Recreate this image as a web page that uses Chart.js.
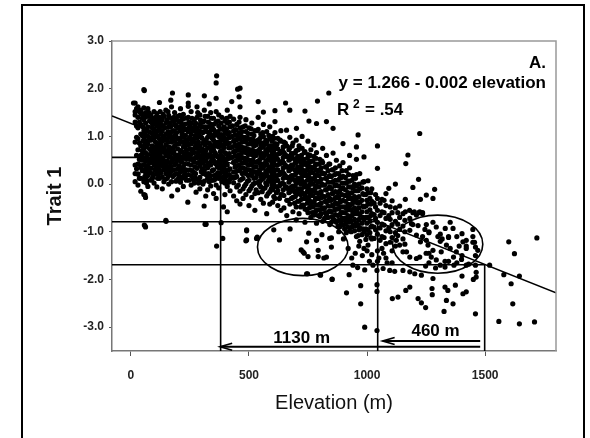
<!DOCTYPE html>
<html><head><meta charset="utf-8">
<script src="https://cdn.jsdelivr.net/npm/chart.js@4.4.1/dist/chart.umd.min.js"></script>
<style>
html,body{margin:0;padding:0;background:#fff;}
#wrap{position:relative;width:590px;height:438px;overflow:hidden;background:#fff;}
#frame{position:absolute;left:21px;top:4px;width:564px;height:470px;border:2.5px solid #000;box-sizing:border-box;}
canvas{position:absolute;left:0;top:0;}
</style></head><body>
<div id="wrap"><div id="frame"></div><canvas id="c" width="590" height="438"></canvas></div>
<script>
// ---- axis ticks ----
const xTicks = [0, 500, 1000, 1500];
const yTicks = [-3, -2, -1, 0, 1, 2, 3];

// ---- main sampling sites: elevation (m) and Trait 1 values of individuals ----
const siteElevation = [18,30,42,55,62,72,85,98,110,121,133,148,160,172,185,198,210,222,235,243,255,268,280,292,305,311,325,338,350,361,372,385,398,408,420,435,448,462,475,487,500,512,525,539,550,561,575,588,600,610,622,635,648,660,673,686,700,712,725,737,750,762,775,786,800,812,828,842,856,870,884,898,912,926,940,955,969,987,1004,1020,1044,1063,1080,1092,1106,1120,1138,1152,1162,1181,1194,1209,1223,1235,1251,1262,1310,1345,1352,1380,1402,1420,1448,1459];
const siteTraits = [
[1.70,1.45,1.52,1.30,0.88,0.40,0.22,0.05],
[1.62,1.40,1.18,0.95,0.72,0.42,0.21,-0.02],
[1.55,1.48,1.25,1.05,0.80,0.60,0.35,0.12,-0.15],
[1.98,1.60,1.35,1.12,0.98,0.75,0.55,0.30,0.05,-0.22],
[1.50,1.28,1.10,0.90,0.66,0.48,0.25,0.10,-0.28,-0.90],
[1.58,1.42,1.20,1.00,0.84,0.62,0.38,0.18,-0.05],
[1.45,1.30,1.08,0.92,0.70,0.52,0.33,0.08],
[1.52,1.36,1.15,0.96,0.78,0.58,0.40,0.20,0.02],
[1.48,1.22,1.02,0.86,0.64,0.45,0.26],
[1.40,1.18,0.95,0.74,0.50,0.30,0.12],
[1.35,1.12,0.90,0.68,0.55,0.38,0.15,-0.10],
[1.55,1.28,1.05,0.82,0.60,0.42,0.22],
[1.44,1.20,1.00,0.78,0.57,0.35,0.18,0.00],
[1.62,1.38,1.10,0.88,0.66,0.47,0.28,0.05],
[1.50,1.25,1.02,0.80,0.62,0.40,0.20],
[1.42,1.18,0.95,0.74,0.55,0.32,0.10,-0.12],
[1.58,1.33,1.12,0.90,0.70,0.48,0.26,0.04],
[1.46,1.20,0.98,0.78,0.58,0.36,0.16,-0.05],
[1.38,1.15,0.92,0.72,0.52,0.30,0.08],
[1.40,1.10,0.85,0.64,0.42,0.20],
[1.52,1.28,1.05,0.84,0.62,0.40,0.18,-0.02],
[1.35,1.12,0.88,0.66,0.46,0.24,0.02],
[1.62,1.40,1.18,0.96,0.75,0.55,0.33,0.10],
[1.45,1.25,1.00,0.80,0.58,0.38,0.14,-0.10],
[1.30,1.08,0.86,0.64,0.44,0.22,0.00],
[1.55,1.32,1.10,0.90,0.70,0.50,0.28,0.06],
[1.42,1.20,0.98,0.76,0.56,0.34,0.12,-0.12],
[1.50,1.26,1.04,0.82,0.60,0.40,0.18,-0.04],
[1.38,1.15,0.92,0.72,0.50,0.30,0.08,-0.20],
[1.80,1.52,1.30,1.06,0.84,0.62,0.42,0.20,-0.02],
[1.45,1.22,1.00,0.78,0.55,0.35,0.12,-0.08],
[1.40,1.15,0.94,0.70,0.50,0.28,0.05],
[1.32,1.10,0.88,0.66,0.45,0.22,0.02,-0.22],
[1.55,1.28,1.06,0.84,0.62,0.40,0.18,-0.05],
[1.42,1.20,0.98,0.76,0.55,0.32,0.10,-0.14],
[1.36,1.12,0.90,0.68,0.46,0.25,0.03,-0.25],
[1.25,1.02,0.80,0.58,0.38,0.16,-0.06,-0.35],
[1.62,1.40,1.18,0.96,0.74,0.52,0.30,0.08,-0.15,-0.42],
[1.20,0.98,0.76,0.55,0.34,0.12,-0.10,-0.30],
[1.35,1.10,0.88,0.66,0.44,0.22,0.00,-0.22],
[1.18,0.95,0.72,0.50,0.30,0.08,-0.14,-0.45],
[1.28,1.05,0.84,0.62,0.40,0.18,-0.04,-0.28],
[1.12,0.90,0.68,0.46,0.25,0.02,-0.20,-0.55],
[1.40,1.15,0.92,0.70,0.48,0.26,0.04,-0.18],
[1.05,0.82,0.60,0.38,0.16,-0.06,-0.32],
[1.25,1.00,0.78,0.56,0.34,0.12,-0.10,-0.40],
[1.10,0.88,0.65,0.42,0.20,-0.02,-0.25,-0.62],
[1.20,0.95,0.72,0.50,0.28,0.06,-0.16,-0.42],
[1.00,0.78,0.55,0.33,0.10,-0.12,-0.38],
[1.08,0.85,0.62,0.40,0.18,-0.05,-0.30],
[0.96,0.74,0.52,0.30,0.08,-0.14,-0.45],
[1.12,0.90,0.66,0.44,0.22,0.00,-0.22,-0.55],
[0.88,0.66,0.44,0.22,0.00,-0.24,-0.50],
[0.80,0.58,0.36,0.14,-0.08,-0.34,-0.66],
[0.98,0.76,0.52,0.30,0.08,-0.16,-0.42],
[0.86,0.64,0.40,0.18,-0.04,-0.28,-0.58],
[0.92,0.70,0.46,0.24,0.02,-0.22,-0.48,-0.75],
[0.80,0.56,0.34,0.12,-0.10,-0.36,-0.62],
[1.00,0.75,0.52,0.30,0.06,-0.18,-0.44],
[0.68,0.45,0.22,0.00,-0.24,-0.52,-0.80],
[0.90,0.62,0.38,0.16,-0.08,-0.32,-0.60],
[0.72,0.48,0.26,0.04,-0.20,-0.46,-0.70],
[0.82,0.58,0.35,0.12,-0.12,-0.38,-0.65],
[0.66,0.42,0.20,-0.04,-0.30,-0.55,-0.82],
[0.52,0.30,0.06,-0.18,-0.42,-0.68],
[0.75,0.45,0.22,-0.02,-0.26,-0.52,-0.78],
[0.60,0.36,0.12,-0.12,-0.38,-0.64],
[0.42,0.18,-0.06,-0.30,-0.56,-0.85],
[0.65,0.30,0.05,-0.20,-0.45,-0.72],
[0.50,0.22,-0.02,-0.28,-0.52,-0.80],
[0.38,0.12,-0.14,-0.38,-0.64,-0.90],
[0.85,0.45,0.16,-0.08,-0.34,-0.60,-0.86],
[0.28,0.02,-0.24,-0.50,-0.76,-1.02],
[0.60,0.34,0.06,-0.20,-0.46,-0.72,-0.98],
[0.18,-0.08,-0.34,-0.60,-0.86],
[0.20,-0.04,-0.30,-0.56,-0.82,-1.10],
[-0.10,-0.38,-0.64,-0.92,-1.20],
[0.05,-0.22,-0.48,-0.74,-1.00,-1.35],
[-0.18,-0.42,-0.70,-0.96,-1.28],
[-0.10,-0.36,-0.62,-0.88,-1.15,-1.48],
[-0.30,-0.55,-0.80,-1.05,-1.40,-1.62],
[-0.58,-0.84,-1.10,-1.35],
[-0.20,-0.45,-0.72,-0.98,-1.25,-1.55],
[-0.66,-0.92],
[-0.60,-0.85,-1.12,-1.40,-1.65],
[-0.50,-0.78,-1.02,-1.30],
[-0.70,-0.95],
[-0.62,-0.88,-1.15,-1.42],
[-0.58],
[-0.72],
[-0.60,-0.85],
[-0.65],
[-0.58],
[-0.62,-1.10],
[-0.85],
[-1.00,-1.45,-1.65],
[-1.05,-1.20,-1.70],
[-1.10,-1.62],
[-1.35],
[-1.10,-1.65],
[-1.50],
[-1.18,-1.30,-1.70],
[-1.22],
[-1.50,-1.70]
];

// ---- additional sites in the dense core ----
const fillElevation = [48,66,79,92,104,116,127,140,154,166,178,191,204,216,228,249,262,274,286,298,318,332,344,356,366,379,391,403,414,441,455,468,481,494,506,518,530,545,556,568,581,594,605,616,629,642,666,680,693,706,719,731,744,756,768,781,793,806,820,835,849,863,877,891,905,919,933,947,962,978,995,1012,1030];
const fillTraits = [
[1.38,1.02,0.70,0.50,0.28],[1.46,1.16,0.78,0.56,0.33,0.02],[1.33,0.96,0.74,0.44,0.25],[1.24,1.00,0.64,0.45,0.14],
[1.40,1.06,0.88,0.50,0.32],[1.30,0.98,0.70,0.38,0.20],[1.26,1.05,0.82,0.46,0.24],[1.42,1.00,0.75,0.50,0.30,0.05],
[1.35,0.94,0.70,0.48,0.12],[1.28,1.06,0.68,0.44,0.24],[1.32,0.96,0.74,0.52,0.16],[1.22,1.00,0.60,0.44,0.06],
[1.30,0.84,0.62,0.38,0.18],[1.26,1.05,0.68,0.46,0.12],[1.14,0.88,0.64,0.42,0.22],[1.24,0.98,0.74,0.52,0.30],
[1.18,0.94,0.72,0.50,0.10],[1.28,1.02,0.80,0.56,0.22],[1.12,0.88,0.66,0.45,0.02],[1.20,0.98,0.72,0.50,0.26],
[1.16,0.92,0.70,0.48,0.20],[1.08,0.86,0.62,0.40,0.05],[1.22,0.96,0.74,0.52,0.28],[1.10,0.88,0.66,0.44,0.10],
[1.04,0.80,0.58,0.36,0.16],[1.16,0.90,0.68,0.44,0.22],[1.02,0.80,0.56,0.38,0.14],[1.10,0.86,0.64,0.42,0.08],
[0.98,0.76,0.54,0.30,0.04],[1.04,0.82,0.60,0.36,0.14],[0.94,0.72,0.50,0.28,-0.02],[1.00,0.78,0.56,0.34,0.10],
[0.90,0.68,0.46,0.24,-0.04],[0.96,0.74,0.52,0.30,0.06],[0.86,0.64,0.42,0.20,-0.10],[0.92,0.70,0.48,0.26,0.00],
[0.82,0.60,0.36,0.14,-0.12],[0.88,0.66,0.44,0.22,-0.02],[0.78,0.56,0.34,0.10,-0.16],[0.84,0.62,0.40,0.18,-0.08],
[0.74,0.52,0.30,0.06,-0.20],[0.80,0.58,0.36,0.14,-0.10],[0.70,0.48,0.24,0.02,-0.26],[0.76,0.54,0.30,0.08,-0.18],
[0.64,0.42,0.20,-0.04,-0.30],[0.70,0.48,0.26,0.02,-0.22],[0.58,0.36,0.14,-0.10,-0.34],[0.64,0.40,0.18,-0.06,-0.30],
[0.52,0.30,0.08,-0.16,-0.40],[0.58,0.36,0.12,-0.12,-0.36],[0.46,0.24,0.00,-0.22,-0.48],[0.52,0.28,0.04,-0.20,-0.44],
[0.40,0.18,-0.06,-0.30,-0.54],[0.46,0.22,-0.02,-0.26,-0.50],[0.34,0.10,-0.14,-0.38,-0.60],[0.40,0.16,-0.08,-0.32,-0.58],
[0.28,0.04,-0.20,-0.44,-0.66],[0.34,0.10,-0.16,-0.40,-0.62],[0.22,-0.02,-0.26,-0.50,-0.72],[0.28,0.04,-0.22,-0.46,-0.70],
[0.16,-0.10,-0.34,-0.58,-0.80],[0.20,-0.04,-0.30,-0.54,-0.76],[0.08,-0.18,-0.42,-0.66,-0.88],[0.14,-0.10,-0.36,-0.60,-0.84],
[0.02,-0.24,-0.48,-0.72,-0.94],[0.06,-0.18,-0.42,-0.66,-0.90],[-0.06,-0.30,-0.54,-0.78,-1.00],[0.00,-0.26,-0.50,-0.74,-0.98],
[-0.14,-0.40,-0.62,-0.86,-1.08],[-0.08,-0.34,-0.58,-0.82,-1.06],[-0.22,-0.46,-0.70,-0.94,-1.16],[-0.30,-0.54,-0.78,-1.02],
[-0.40,-0.64,-0.90,-1.14]
];

// ---- a third set of sites in the dense core ----
const coreElevation = [24,36,51,59,76,90,101,113,124,137,144,157,169,182,194,207,219,231,246,259,271,283,295,302,314,328,341,353,369,382,394,405,417,430,444,458,471,484,497,509,521,535,547,558,571,584,597,607,619,632,645,654,669,683,696,709,722,734,747,759,771,784,797,809,824,838,852,866,880,894,908,922,936,951,966,982,999,1016,1036,1055,1072,1098,1130,1160];
const coreTraits = [
[1.58,1.22,0.98,0.60,0.32],[1.52,1.30,0.86,0.52,0.12],[1.44,1.20,0.90,0.64,0.40],[1.40,1.06,0.82,0.40,0.16],
[1.50,1.10,0.92,0.52,0.28],[1.38,1.18,0.80,0.60,0.22],[1.28,1.10,0.70,0.52,0.30],[1.36,1.12,0.78,0.56,0.12],
[1.52,1.28,0.86,0.62,0.40],[1.46,1.22,1.00,0.76,0.46],[1.18,0.92,0.66,0.34,0.10],[1.52,1.10,0.88,0.62,0.30],
[1.20,0.98,0.76,0.56,0.36],[1.40,1.12,0.90,0.68,0.30],[1.34,1.08,0.84,0.50,0.22],[1.44,1.20,0.96,0.56,0.32],
[1.36,1.12,0.88,0.54,0.28],[1.26,1.02,0.80,0.60,0.16],[1.30,1.18,0.94,0.56,0.08],[1.38,1.14,0.90,0.70,0.28],
[1.24,1.00,0.76,0.36,0.14],[1.50,1.08,0.86,0.64,0.44],[1.34,1.10,0.70,0.48,0.04],[1.20,0.96,0.74,0.54,0.32],
[1.42,1.20,0.82,0.60,0.38],[1.30,1.08,0.86,0.44,0.22],[1.38,1.14,0.70,0.48,0.08],[1.26,1.02,0.80,0.60,0.18],
[1.32,1.10,0.88,0.46,0.24],[1.28,1.04,0.82,0.60,0.38],[1.20,0.98,0.76,0.34,0.12],[1.38,1.16,0.94,0.52,0.28],
[1.30,1.08,0.86,0.64,0.20],[1.22,1.00,0.78,0.56,0.14],[1.14,0.92,0.70,0.48,0.26],[1.30,1.08,0.84,0.62,0.40],
[1.10,0.88,0.66,0.44,0.22],[1.22,0.98,0.76,0.54,0.32],[1.06,0.84,0.62,0.40,0.18],[1.16,0.94,0.72,0.50,0.28],
[1.02,0.80,0.58,0.36,0.12],[1.12,0.90,0.68,0.46,0.22],[0.96,0.74,0.52,0.30,0.06],[1.08,0.86,0.64,0.42,0.20],
[0.92,0.70,0.48,0.26,0.02],[1.02,0.80,0.58,0.36,0.14],[0.90,0.66,0.44,0.22,-0.02],[0.96,0.74,0.50,0.28,0.06],
[0.84,0.62,0.40,0.18,-0.06],[0.92,0.68,0.46,0.24,0.00],[0.78,0.56,0.34,0.12,-0.12],[0.86,0.62,0.40,0.18,-0.06],
[0.72,0.50,0.28,0.04,-0.18],[0.80,0.56,0.34,0.12,-0.12],[0.66,0.44,0.20,-0.04,-0.26],[0.72,0.50,0.26,0.04,-0.20],
[0.60,0.38,0.14,-0.10,-0.32],[0.66,0.42,0.18,-0.06,-0.30],[0.54,0.30,0.08,-0.16,-0.40],[0.60,0.36,0.12,-0.12,-0.36],
[0.48,0.24,0.00,-0.24,-0.48],[0.54,0.30,0.06,-0.18,-0.44],[0.42,0.18,-0.06,-0.30,-0.54],[0.48,0.24,0.00,-0.24,-0.50],
[0.36,0.12,-0.12,-0.36,-0.60],[0.42,0.16,-0.08,-0.32,-0.58],[0.30,0.04,-0.20,-0.46,-0.68],[0.34,0.08,-0.16,-0.40,-0.64],
[0.22,-0.04,-0.28,-0.52,-0.76],[0.28,0.02,-0.22,-0.48,-0.72],[0.14,-0.12,-0.36,-0.60,-0.84],[0.20,-0.06,-0.30,-0.54,-0.80],
[0.08,-0.18,-0.42,-0.66,-0.90],[0.12,-0.14,-0.38,-0.62,-0.88],[0.00,-0.26,-0.50,-0.74,-0.96],[0.04,-0.20,-0.46,-0.70,-0.94],
[-0.10,-0.34,-0.58,-0.82,-1.06],[-0.18,-0.42,-0.66,-0.90,-1.12],[-0.22,-0.48,-0.72,-0.96],[-0.40,-0.66,-0.92,-1.18],
[-0.34,-0.60,-0.86,-1.12],[-0.48,-0.74,-1.00,-1.22],[-0.60,-0.84,-1.08],[-0.76,-1.00,-1.26]
];

// ---- scattered individuals (read one by one) ----
const outlierElevation = [1600,1719,1624,1519,1579,1645,1610,1617,1558,1645,1709,
1459,1462,1462,1406,1420,1364,1326,1336,1342,1330,1374,1402,1279,1275,1276,1248,1230,1216,1181,1164,1131,1107,1230,1202,1181,1152,1117,1096,1068,1042,1042,1042,1042,990,973,973,913,924,852,803,744,
1248,1290,1330,1368,1430,1450,
57,148,317,382,408,392,310,241,173,317,60,30,32,68,89,110,361,276,363,389,487,490,532,314,149,60,318,
363,361,57,11,121,176,169,243,243,243,311,332,452,427,462,458,539,561,610,655,673,737,790,838,610,754,786,828,856,962,701,659,
1223,1044,955,987,955,1173,1164,1044,969,1218,1004,1120,1092,1194,1286,1251,1279,1226,1162,1106,1138,1063,1180,1200,1220,1235,
1279,1293,1331,1352,1364,1402,1448,1406,1459,1469,1455,1448,1378,1366,1336,1314,1279,1272,1293,1258,1251,1226,1209,1181,1188,1216,1223,1209,1181,1167,1138,1124,1245,1262,1300,1318,1345,1390,1420,1250,1330,1400,
744,786,793,828,842,849,729,605,674,629,721,734,750,793,817,849,809,753,748,801,852,490,490,535,
880,900,920,935,950,965,980,1000,1010,1025,1050,1070,1085,940,960,990];
const outlierTrait = [-1.21,-1.13,-1.46,-1.70,-1.90,-1.93,-2.09,-2.51,-2.88,-2.93,-2.89,
-2.72,-1.95,-1.85,-2.30,-2.26,-2.51,-2.67,-2.44,-2.23,-2.16,-2.12,-1.93,-1.98,-2.19,-2.32,-2.59,-2.49,-2.40,-2.16,-2.23,-2.37,-2.40,-1.91,-1.88,-1.84,-1.81,-1.83,-1.81,-1.77,-1.81,-2.11,-2.25,-3.07,-3.00,-2.51,-2.13,-2.28,-1.90,-2.00,-1.91,-1.88,
-1.72,-1.76,-1.74,-1.70,-1.68,-2.00,
-0.86,-0.76,-0.84,-0.81,-0.58,-0.48,-0.46,-0.38,-0.25,-0.25,-0.23,0.21,0.42,0.08,0.10,-0.06,-0.30,-0.17,-1.30,-1.14,-1.19,-0.98,-1.14,-0.84,-0.78,-0.88,-0.84,
2.27,2.12,1.96,1.70,1.71,1.91,1.76,1.87,1.70,1.63,1.85,1.68,1.99,1.73,2.01,1.83,1.73,1.51,1.54,1.70,1.55,1.53,1.74,1.91,1.31,1.32,1.27,1.31,1.17,1.03,1.17,1.13,
1.06,0.80,0.78,0.57,0.52,0.61,0.43,0.33,0.22,0.10,0.07,0.00,-0.09,-0.07,-0.11,-0.23,-0.30,-0.32,-0.32,-0.35,-0.46,-0.32,-0.55,-0.58,-0.60,-0.60,
-0.80,-0.90,-0.93,-0.80,-0.93,-1.04,-0.95,-1.21,-1.32,-1.39,-1.22,-1.10,-1.42,-1.53,-1.28,-1.42,-1.39,-1.53,-1.59,-1.28,-1.18,-1.21,-1.07,-0.97,-0.83,-0.87,-1.53,-1.56,-1.53,-1.42,-1.28,-1.18,-0.95,-1.02,-1.10,-1.15,-1.12,-1.30,-1.35,-1.45,-1.62,-1.58,
-1.21,-1.18,-1.39,-1.53,-1.14,-1.32,-1.42,-0.96,-0.94,-1.17,-1.38,-1.45,-1.52,-1.52,-1.55,-1.13,-1.06,-1.03,-1.88,-1.90,-1.99,-0.96,-1.17,-1.11,
-1.00,-1.15,-1.35,-1.55,-1.45,-1.30,-1.50,-1.40,-1.62,-1.70,-1.55,-1.45,-1.65,-1.70,-1.75,-1.80];

// ---- regression line and read-off construction ----
const regElevation = [-80, 1800];
const regTrait = [1.43, -2.28];
const hLineY = [0.56, -0.79, -1.69];
const hLineEnd = [380, 1045, 1498];
const vLineX = [380, 1045, 1498];
const vLineTop = [0.56, -0.79, -1.69];
const arrowStart = [1479, 1479];
const arrowEnd = [378, 1066];
const arrowY = [-3.41, -3.29];
const arrowLabels = ['1130 m', '460 m'];
const arrowLabelX = [723, 1290];
const arrowLabelY = [-3.34, -3.19];
const ellipseX = [728, 1299];
const ellipseY = [-1.32, -1.26];
const ellipseRX = [192, 191];
const ellipseRY = [0.60, 0.61];

const FONT = 'Arial, "Liberation Sans", Helvetica, sans-serif';
const XMIN = -80, XMAX = 1800, YMIN = -3.5, YMAX = 3.0;

const points = [];
siteElevation.forEach((e, i) => siteTraits[i].forEach(v => points.push({x: e, y: v})));
fillElevation.forEach((e, i) => fillTraits[i].forEach(v => points.push({x: e, y: v})));
coreElevation.forEach((e, i) => coreTraits[i].forEach(v => points.push({x: e, y: v})));
outlierElevation.forEach((e, i) => points.push({x: e, y: outlierTrait[i]}));

const lineDs = (data, w) => ({type: 'line', data, showLine: true, borderColor: '#000', borderWidth: w,
  pointRadius: 0, pointHoverRadius: 0, fill: false, tension: 0, order: 2});

const datasets = [
  {type: 'scatter', data: points, backgroundColor: '#000', borderWidth: 0, pointRadius: 2.6, pointHoverRadius: 2.6, order: 1},
  lineDs(regElevation.map((e, i) => ({x: e, y: regTrait[i]})), 1.6)
];
hLineY.forEach((v, i) => datasets.push(lineDs([{x: XMIN, y: v}, {x: hLineEnd[i], y: v}], 1.6)));
vLineX.forEach((e, i) => datasets.push(lineDs([{x: e, y: YMIN}, {x: e, y: vLineTop[i]}], 1.6)));
arrowStart.forEach((s, i) => datasets.push(lineDs([{x: s, y: arrowY[i]}, {x: arrowEnd[i], y: arrowY[i]}], 1.9)));

const annot = {
  id: 'annot',
  afterDraw(chart) {
    const {ctx, chartArea: a} = chart;
    const x = chart.scales.x, y = chart.scales.y;
    ctx.save();
    // plot frame (top and right)
    ctx.strokeStyle = '#999'; ctx.lineWidth = 1.5;
    ctx.beginPath(); ctx.moveTo(a.left, a.top); ctx.lineTo(a.right, a.top); ctx.lineTo(a.right, a.bottom); ctx.stroke();
    // ellipses
    ctx.strokeStyle = '#000'; ctx.lineWidth = 1.6;
    ellipseX.forEach((cx, i) => {
      const px = x.getPixelForValue(cx), py = y.getPixelForValue(ellipseY[i]);
      const rx = x.getPixelForValue(cx + ellipseRX[i]) - px;
      const ry = py - y.getPixelForValue(ellipseY[i] + ellipseRY[i]);
      ctx.beginPath(); ctx.ellipse(px, py, rx, ry, 0, 0, Math.PI * 2); ctx.stroke();
    });
    // arrow heads
    ctx.lineWidth = 1.7;
    arrowEnd.forEach((ex, i) => {
      const px = x.getPixelForValue(ex), py = y.getPixelForValue(arrowY[i]);
      ctx.beginPath(); ctx.moveTo(px + 12, py - 3.5); ctx.lineTo(px, py); ctx.lineTo(px + 12, py + 3.5); ctx.stroke();
    });
    // arrow labels
    ctx.fillStyle = '#000';
    ctx.font = 'bold 17px ' + FONT;
    ctx.textAlign = 'center'; ctx.textBaseline = 'alphabetic';
    arrowLabels.forEach((t, i) => ctx.fillText(t, x.getPixelForValue(arrowLabelX[i]), y.getPixelForValue(arrowLabelY[i])));
    // panel label and equation
    ctx.textAlign = 'right';
    ctx.fillText('A.', a.right - 10, a.top + 27);
    ctx.fillText('y = 1.266 - 0.002 elevation', a.right - 10, a.top + 47);
    ctx.textAlign = 'left';
    ctx.fillText('R', a.left + 225, a.top + 74);
    ctx.font = 'bold 12px ' + FONT;
    ctx.fillText('2', a.left + 241, a.top + 67);
    ctx.font = 'bold 17px ' + FONT;
    ctx.fillText('= .54', a.left + 253, a.top + 74);
    ctx.restore();
  }
};

new Chart(document.getElementById('c'), {
  type: 'scatter',
  data: {datasets},
  options: {
    responsive: false, animation: false, devicePixelRatio: 1,
    layout: {padding: {left: 0, right: 34, top: 41, bottom: 0}},
    plugins: {legend: {display: false}, tooltip: {enabled: false}},
    scales: {
      x: {
        type: 'linear', min: XMIN, max: XMAX,
        afterBuildTicks: s => { s.ticks = xTicks.map(v => ({value: v})); },
        afterFit: s => { s.height = 87; },
        ticks: {font: {family: FONT, size: 12, weight: 'bold'}, color: '#222', padding: 12, maxRotation: 0, autoSkip: false,
          callback: v => String(v)},
        grid: {display: true, drawOnChartArea: false, drawTicks: true, tickLength: 5, color: '#555', lineWidth: 1},
        border: {display: true, color: '#777', width: 1.5},
        title: {display: true, text: 'Elevation (m)', font: {family: FONT, size: 20, weight: 'normal'}, color: '#111',
          padding: {top: 0, bottom: 23}}
      },
      y: {
        type: 'linear', min: YMIN, max: YMAX,
        afterBuildTicks: s => { s.ticks = yTicks.map(v => ({value: v})); },
        afterFit: s => { s.width = 112; },
        ticks: {font: {family: FONT, size: 12, weight: 'bold'}, color: '#222', padding: 5, autoSkip: false,
          callback: v => Number(v).toFixed(1)},
        grid: {display: true, drawOnChartArea: false, drawTicks: true, tickLength: 3, color: '#555', lineWidth: 1},
        border: {display: true, color: '#777', width: 1.5},
        title: {display: true, text: 'Trait 1', font: {family: FONT, size: 20, weight: 'bold'}, color: '#111',
          padding: {top: 43, bottom: 0}}
      }
    }
  },
  plugins: [annot]
});
</script>
</body></html>
